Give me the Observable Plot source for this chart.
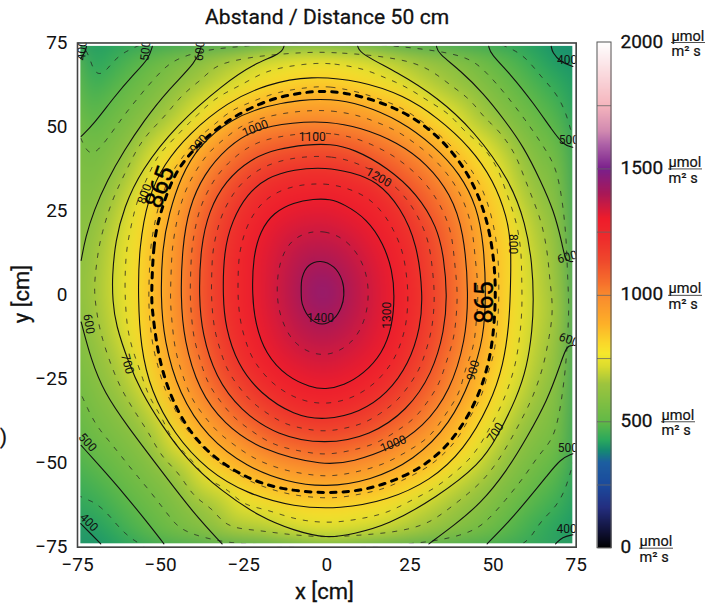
<!DOCTYPE html>
<html><head><meta charset="utf-8">
<script src="https://cdn.jsdelivr.net/npm/d3@7"></script>
<script src="https://cdn.jsdelivr.net/npm/@observablehq/plot@0.6"></script>
<style>
html,body{margin:0;padding:0;background:#fff;overflow:hidden}
#wrap{position:relative;width:719px;height:604px;font-family:Roboto,sans-serif;color:#111}
#wrap svg{position:absolute;left:0;top:0;background:transparent;max-width:none}
.t{position:absolute;white-space:nowrap;-webkit-text-stroke:0.3px #111}
</style></head><body><div id="wrap"></div>
<script>
// Contour tracings, [x cm, y cm]
const arcs400 = [
  [[-72.3,74],[-72.8,72],[-74,70.5]],
  [[67.5,74],[67.8,72.2],[70.3,69.3],[74,68]],
  [[-74,-68],[-71,-71],[-68,-74]],
  [[68.8,-74],[70.8,-72],[74,-71.3]]
];
const arcs500 = [
  [[-52.5,74],[-53.5,70.3],[-58.5,65.3],[-64,58.9],[-70.1,50.9],[-73.9,47.2]],
  [[48.7,74],[49.2,71.8],[55.2,65.8],[62.3,56.9],[67.8,49],[71.3,44.5],[74,44]],
  [[-73.9,-44.7],[-68,-51.2],[-61,-59.1],[-54,-67.6],[-49,-74]],
  [[48.2,-74],[54.2,-68],[60.2,-61.1],[66.3,-53.7],[70.3,-48.7],[74,-47.2]]
];
const arcs600 = [
  [[-73.9,10.3],[-72.6,17.2],[-70.1,25.1],[-66.1,34.1],[-61,43],[-55,51.9],[-48,60.8],[-39,69.6],[-37.8,74]],
  [[33,74],[33.4,72],[40.2,66.8],[47.2,59.9],[53.2,52.4],[59.3,44],[64.3,34],[68.3,25.1],[70.8,15.2],[71.8,9.8],[74,10]],
  [[-73.9,-8],[-71,-19],[-67,-29],[-60,-39],[-50,-52],[-40,-65],[-31.5,-74]],
  [[30.7,-74],[38.2,-68.5],[46.2,-62.1],[54.2,-52.2],[60.2,-42.3],[66.3,-31.4],[70.3,-20.5],[72.1,-15],[74,-15]]
];
const arc700 = [[-12.9,74],[-13.7,71.8],[-22,68.8],[-31,62.8],[-45,50.9],[-56,37],[-61,26.1],[-63.6,16.2],[-64.6,5.3],[-64.4,-1.6],[-63.6,-8.6],[-59.5,-20.5],[-56,-28.4],[-50,-38.3],[-42,-49.2],[-32,-58.1],[-20,-66.1],[-10,-70],[0,-72.5],[8.1,-71],[18.2,-68.5],[33.2,-60.1],[46.2,-50.2],[51.2,-42.3],[57.2,-30.4],[60.2,-21.4],[61.8,-10.5],[62.2,-1.6],[61.8,9.3],[59.8,21.2],[55.2,34],[44.2,49],[33.2,58.9],[21.2,66.3],[10.1,71.8],[9.3,74]];
const loop800 = [[-56.8,-0.6],[-56.5,14.2],[-53.8,29.1],[-49,39],[-41.5,48],[-30,57.4],[-18,62.8],[-5,65.3],[10.1,63.8],[23.2,59.4],[33.2,52.9],[43.2,44],[50.2,34],[54.2,23.2],[55.5,15],[55.2,0],[54.8,-8.6],[53.2,-20.5],[49.2,-32.4],[41.2,-46.2],[31.2,-55.2],[18.2,-61.1],[4.1,-63.6],[-9.9,-63.1],[-24,-59.1],[-36,-52.2],[-46,-41.3],[-53,-28.4],[-56,-15.5]];
const loop865 = [[-52.8,-0.6],[-52.2,15.2],[-50.5,23.2],[-46.5,35],[-41.5,42],[-32,50.9],[-20,57.4],[-10,60],[0,61],[10.1,59.4],[23.2,54.9],[34.2,47],[42.2,37],[47.2,26.1],[49.7,15.2],[50.7,5.3],[50.7,-3.6],[49.7,-16.5],[46.2,-29.4],[39.2,-41.8],[30.2,-50.7],[17.2,-56.7],[4.1,-59.3],[-14,-58.1],[-26,-53.7],[-37,-46.2],[-45,-35.3],[-50.5,-20.5],[-52.5,-4.6]];
const loop900 = [[-50,-0.6],[-49.5,14.2],[-47.5,24.2],[-44,35.1],[-38.5,44.5],[-29,52.4],[-18,56.4],[-8,58.1],[1.1,58.4],[10.1,56.9],[22.2,51.9],[32.2,44.5],[40.2,36],[45.2,26.1],[47.2,15.2],[47.9,0],[47.2,-12.5],[43.7,-24.4],[37.2,-38.3],[26.2,-49.2],[13.1,-55.2],[-0.5,-57.2],[-12,-55.6],[-24,-51.2],[-36,-42.3],[-44.5,-29.4],[-49,-13.5]];
const loop1000 = [[-44,-0.6],[-43.5,14.2],[-41.5,26.1],[-37,36],[-30,44],[-22,49.4],[-10,51.4],[0,51.7],[10.1,49.9],[21.2,45.5],[30.2,39],[37.2,30.1],[41.2,19.2],[42.7,0],[41.7,-13.5],[37.2,-28.4],[29.2,-39.3],[18.2,-46.2],[8.1,-49.4],[-0.5,-50.9],[-20,-46.2],[-31,-38.3],[-38.5,-28.4],[-43,-13.5]];
const loop1100 = [[-38.5,-0.6],[-38,14.2],[-35.5,25.1],[-30.5,34],[-23,40.5],[-15,43.5],[-5.9,44.8],[1,45],[8.1,43.5],[18.2,38],[27.2,30.1],[33.2,20.2],[35.2,11.3],[36.2,0],[35.4,-10.5],[31.7,-23.4],[24.2,-34.3],[13.1,-41.8],[-0.5,-44.5],[-15,-41.8],[-26,-34.3],[-33.5,-24.4],[-37.5,-11.5]];
const loop1200 = [[-31.3,-0.6],[-31,13.2],[-28.5,22.2],[-24,30.1],[-18,35],[-10,37.5],[0,38],[7.1,36.6],[15.1,34],[22.2,26.1],[27.2,15.2],[28.9,0],[28.2,-9.5],[24.7,-20.5],[18.1,-29.4],[10.1,-34.8],[-0.5,-37.3],[-9.9,-35.8],[-20,-29.4],[-27,-20.5],[-30.5,-9.5]];
const loop1300 = [[-22.5,0],[-22.2,11.3],[-20,19.2],[-16,24.6],[-10,27.6],[-4,28.6],[1,28.6],[5.1,27.1],[12.1,22.7],[17.1,15.2],[19.7,7.3],[20.4,0],[19.7,-9.5],[16.6,-17.5],[11.1,-23.4],[5.1,-26.9],[-0.5,-28.1],[-4.9,-27.4],[-12,-24.4],[-18.5,-17.5],[-21.5,-8.6]];
const loop1400 = [[-7.7,0.4],[-7.4,5.3],[-5.4,8.8],[-1.9,10],[2.1,8.3],[4.6,4.3],[5.1,0],[4.3,-3.6],[2.1,-7],[-1.4,-8.6],[-4.9,-7],[-7.4,-2.6]];
// Values estimated at the corners, edges, corner dashes and centre of the field: x, y, value
const anchors = [[-74,74,395],[74,74,385],[-74,-74,388],[74,-74,390],[-2,74,715],[0,-74,688],[-74,1,612],[74,-3,610],[-1.2,0.5,1470],
 [-74,58.9,450],[-67,65.5,450],[-61,72.7,450],[57,74,450],[65,64,450],[72.3,55.4,450],[-73,-56.2,450],[-66,-65,450],[-58.6,-73.5,450],[60.2,-71,450],[66.5,-65,450],[72.8,-58.6,450]];
const dashedLevels = [450,550,650,750,850,950,1050,1150,1250,1350];
// Colour bar stops
const stopValues = [0,58,161,248,340,386,426,500,650,720,770,810,888,1000,1050,1138,1220,1304,1403,1500,1600,1650,1750,2000];
const stopColors = ["#000000","#0e0f30","#242e80","#1b4a9d","#1c5ea0","#158a72","#2aa85e","#62b947","#9ec43e","#dcdc2e","#f6e82c","#fad82a","#fdb028","#f98a2e","#f6702c","#ef482c","#ee2e2c","#ef1c2b","#a81858","#7a1f8c","#b064a8","#d28ab0","#f5b5bd","#ffffff"];
// Tick labels
const xTicks = [-75,-50,-25,0,25,50,75];
const yTicks = [-75,-50,-25,0,25,50,75];
const barTicks = [250,500,750,1000,1250,1500,1750];
const barLabels = [[2000,671],[1500,668],[1000,668],[500,661],[0,639]];
// Contour labels: text, x, y, rotation
const labels = [
 ["400",-73.6,72.8,-85],["500",-54.5,72.7,-85],["600",-38.2,72.7,-85],["400",72.3,69.8,0],["500",72.8,46,0],
 ["600",72.3,11.3,-15],["600",72.8,-13.3,20],["500",72.5,-45.4,0],["400",72.1,-69.5,0],["600",-71.6,-8.6,80],
 ["700",-60,-20.5,75],["500",-72,-43.8,48],["400",-71.6,-67.6,45],["800",-54.8,30.1,-70],["900",-38.5,45,-48],
 ["1000",-21.5,49.6,-22],["1100",-4.4,47,0],["1200",15.6,35,30],["1300",18.2,-6,-90],["1400",-1.9,-7,0],
 ["1000",20,-44.3,-22],["900",44,-22.4,-75],["700",50.7,-40.8,-58],["800",56,15.2,90]
];
const bigLabels = [["865",-50.2,32.1,-70],["865",47.7,-2.2,-90]];

const named = [[400,arcs400],[500,arcs500],[600,arcs600],[700,[arc700]],[800,[loop800]],[865,[loop865]],[900,[loop900]],[1000,[loop1000]],[1100,[loop1100]],[1200,[loop1200]],[1300,[loop1300]],[1400,[loop1400]]];
const samples = named.flatMap(([v,as]) => as.flatMap(a => a.map(([x,y]) => ({x,y,v}))))
  .concat(anchors.map(([x,y,v]) => ({x,y,v})));
const color = {type:"linear",domain:stopValues,range:stopColors,clamp:true,legend:false};
const font = "Roboto, sans-serif";
const field = {x:"x",y:"y",interpolate:"barycentric",blur:10,pixelSize:1};
const ext = {x1:-76,x2:76,y1:-76,y2:76};
const numberStyle = {fontFamily:font,fill:"#111",stroke:"#111",strokeWidth:0.3};
const lineRow = a => a.map(([x,y]) => ({x,y}));
const solidArcs = [...arcs400,...arcs500,...arcs600,arc700].map(a => Plot.line(lineRow(a),{x:"x",y:"y",curve:"basis",stroke:"#111",strokeWidth:1.1}));
const solidLoops = [loop800,loop900,loop1000,loop1100,loop1200,loop1300].map(a => Plot.line(lineRow(a),{x:"x",y:"y",curve:"basis-closed",stroke:"#111",strokeWidth:1.1}));

const main = Plot.plot({
  width:719,height:604,marginLeft:77,marginRight:143.3,marginTop:42.5,marginBottom:57.3,
  style:{background:"transparent"},
  x:{domain:[-75,75],axis:null},y:{domain:[-75,75],axis:null},color,
  marks:[
    Plot.raster(samples,{...field,...ext,fill:"v",clip:"frame"}),
    Plot.contour(samples,{...field,...ext,value:"v",thresholds:dashedLevels,stroke:"#222",strokeWidth:0.8,strokeDasharray:"5,7",fill:"none",clip:"frame"}),
    Plot.rect([0],{x1:-74.5,x2:74.5,y1:-74.5,y2:74.5,fill:"none",stroke:"#fff",strokeWidth:3.4}),
    ...solidArcs,...solidLoops,
    Plot.line(lineRow(loop1400),{x:"x",y:"y",curve:"catmull-rom-closed",stroke:"#111",strokeWidth:1.1}),
    Plot.line(lineRow(loop865),{x:"x",y:"y",curve:"basis-closed",stroke:"#000",strokeWidth:3,strokeDasharray:"5.5,7"}),
    Plot.text(labels,{x:d=>d[1],y:d=>d[2],text:d=>d[0],rotate:d=>d[3],fontSize:12,fontFamily:font,fill:"#111",clip:"frame"}),
    Plot.text(bigLabels,{x:d=>d[1],y:d=>d[2],text:d=>d[0],rotate:d=>d[3],fontSize:25,fontFamily:font,fill:"#000",stroke:"#000",strokeWidth:0.4}),
    Plot.frame({stroke:"#444",strokeWidth:1.6}),
    Plot.axisX(xTicks,{anchor:"bottom",tickSize:0,tickPadding:10,label:null,fontSize:19,...numberStyle}),
    Plot.axisY(yTicks,{anchor:"left",tickSize:0,tickPadding:10,label:null,fontSize:19,...numberStyle})
  ]
});
const bar = Plot.plot({
  width:719,height:604,marginLeft:0,marginRight:0,marginTop:42,marginBottom:56.3,
  style:{background:"transparent"},
  x:{type:"linear",domain:[0,719],range:[0,719],axis:null},
  y:{domain:[0,2000],axis:null},color,
  marks:[
    Plot.raster({x1:597,x2:611,y1:0,y2:2000,width:1,height:506,fill:(x,y)=>y,imageRendering:"auto"}),
    Plot.ruleY(barTicks,{x1:597,x2:611,stroke:"#666",strokeWidth:0.8}),
    Plot.rect([0],{x1:597,x2:611,y1:0,y2:2000,fill:"none",stroke:"#555",strokeWidth:1}),
    Plot.text(barLabels,{x:620,y:d=>d[0],text:d=>String(d[0]),textAnchor:"start",fontSize:19,dy:-1,...numberStyle}),
    Plot.text(barLabels,{x:d=>d[1],y:d=>d[0],text:()=>"µmol",textAnchor:"start",fontSize:14.5,...numberStyle,strokeWidth:0.2,dy:-6.5}),
    Plot.ruleY(barLabels,{y:d=>d[0],x1:d=>d[1],x2:d=>d[1]+34,stroke:"#222",strokeWidth:0.8}),
    Plot.text(barLabels,{x:d=>d[1],y:d=>d[0],text:()=>"m² s",textAnchor:"start",fontSize:14.5,...numberStyle,strokeWidth:0.2,dy:9})
  ]
});
const wrap = document.getElementById("wrap");
wrap.append(main,bar);
function addText(txt,css){const d=document.createElement("div");d.className="t";d.textContent=txt;d.style.cssText=css;wrap.append(d);}
addText("Abstand / Distance 50 cm","left:205px;top:5px;font-size:21px;letter-spacing:0.08px");
addText("x [cm]","left:295px;top:579px;font-size:22px");
addText("y [cm]","left:21px;top:294px;font-size:22px;transform:translate(-50%,-50%) rotate(-90deg)");
addText(")","left:0;top:425px;font-size:20px");
</script></body></html>
